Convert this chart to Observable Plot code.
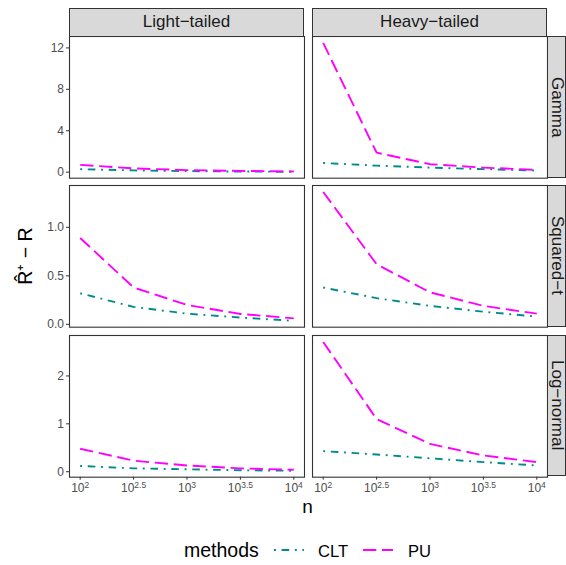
<!DOCTYPE html>
<html>
<head>
<meta charset="utf-8">
<script src="https://cdn.jsdelivr.net/npm/d3@7"></script>
<script src="https://cdn.jsdelivr.net/npm/@observablehq/plot@0.6"></script>
<style>
  html, body { margin: 0; padding: 0; background: #fff; overflow: hidden; }
  body { font-family: "Liberation Sans", Arial, Helvetica, sans-serif; }
  #chart { position: relative; width: 566px; height: 565px; overflow: hidden; }
  .panel { position: absolute; }
  .strip { position: absolute; box-sizing: border-box; background: #d9d9d9; border: 1px solid #333;
           color: #1a1a1a; font-size: 17px; display: flex; align-items: center; justify-content: center; }
  .vstrip span { writing-mode: vertical-rl; }
  #overlay { position: absolute; left: 0; top: 0; pointer-events: none; }
</style>
</head>
<body>
<div id="chart"></div>
<script>
// ---- data ----
const logN = [2, 2.5, 3, 3.5, 4];            // n = 10^logN
const tails = ["Light\u2212tailed", "Heavy\u2212tailed"];
const dists = ["Gamma", "Squared\u2212t", "Log\u2212normal"];
const methods = ["CLT", "PU"];

const gammaLightCLT = [0.29, 0.17, 0.10, 0.06, 0.04];
const gammaLightPU  = [0.70, 0.36, 0.20, 0.12, 0.07];
const gammaHeavyCLT = [0.89, 0.63, 0.44, 0.29, 0.16];
const gammaHeavyPU  = [12.48, 1.88, 0.77, 0.44, 0.22];
const sqtLightCLT   = [0.32, 0.18, 0.11, 0.07, 0.037];
const sqtLightPU    = [0.89, 0.38, 0.20, 0.107, 0.062];
const sqtHeavyCLT   = [0.38, 0.27, 0.19, 0.13, 0.08];
const sqtHeavyPU    = [1.365, 0.62, 0.33, 0.19, 0.11];
const lnLightCLT    = [0.12, 0.07, 0.05, 0.03, 0.02];
const lnLightPU     = [0.48, 0.23, 0.13, 0.07, 0.04];
const lnHeavyCLT    = [0.43, 0.36, 0.28, 0.20, 0.13];
const lnHeavyPU     = [2.71, 1.10, 0.58, 0.34, 0.20];

const yTicks = [[0, 4, 8, 12], [0, 0.5, 1.0], [0, 1, 2]];
const yFormats = [d => String(d), d3.format(".1f"), d => String(d)];
const xTickLabels = ["2", "2.5", "3", "3.5", "4"];

const series = {
  "Gamma":      {"Light": {CLT: gammaLightCLT, PU: gammaLightPU}, "Heavy": {CLT: gammaHeavyCLT, PU: gammaHeavyPU}},
  "Squared\u2212t":  {"Light": {CLT: sqtLightCLT, PU: sqtLightPU},  "Heavy": {CLT: sqtHeavyCLT, PU: sqtHeavyPU}},
  "Log\u2212normal": {"Light": {CLT: lnLightCLT, PU: lnLightPU},    "Heavy": {CLT: lnHeavyCLT, PU: lnHeavyPU}}
};
const tailKeys = ["Light", "Heavy"];

// ---- styling / layout ----
const colors = {CLT: "#008B8B", PU: "#FF00FF"};
const lw = 1.9;
const dashes = {CLT: [1*lw, 3*lw, 4*lw, 3*lw].join(","), PU: [7*lw, 3*lw].join(",")};
const colLeft = [69, 312], panelW = 235;
const rowTop = [36, 185, 334.6], panelH = 141.7;

const chart = document.getElementById("chart");

function expand(vals) {
  const lo = d3.min(vals), hi = d3.max(vals), r = hi - lo;
  return [lo - 0.05 * r, hi + 0.05 * r];
}

dists.forEach((dist, r) => {
  const rowVals = [];
  tailKeys.forEach(t => methods.forEach(m => rowVals.push(...series[dist][t][m])));
  const yDomain = expand(rowVals);
  tailKeys.forEach((t, c) => {
    const rows = [];
    methods.forEach(m => series[dist][t][m].forEach((v, i) => rows.push({method: m, x: logN[i], y: v})));
    const mL = c === 0 ? 69 : 4, mR = 4, mT = 4, mB = r === 2 ? 36 : 4;
    const marks = [Plot.frame({stroke: "#333", strokeWidth: 1.1})];
    methods.forEach(m => marks.push(Plot.line(rows.filter(d => d.method === m), {
      x: "x", y: "y", stroke: colors[m], strokeWidth: lw,
      strokeDasharray: dashes[m], strokeLinecap: "butt", strokeLinejoin: "round"
    })));
    if (c === 0) marks.push(Plot.axisY({ticks: yTicks[r], tickFormat: yFormats[r], tickSize: 3, tickPadding: 2.5,
      fontSize: 12, stroke: "#333", fill: "#4d4d4d", label: null}));
    if (r === 2) marks.push(Plot.axisX({ticks: logN, tickFormat: (d, i) => xTickLabels[i], tickSize: 3, tickPadding: 3,
      fontSize: 12, stroke: "#333", fill: "#4d4d4d", label: null}));
    const svg = Plot.plot({
      width: mL + panelW + mR, height: mT + panelH + mB,
      marginLeft: mL, marginRight: mR, marginTop: mT, marginBottom: mB,
      style: {fontFamily: '"Liberation Sans", Arial, sans-serif', background: "transparent", overflow: "visible"},
      x: {domain: [1.9, 4.1], axis: r === 2 ? undefined : null},
      y: {domain: yDomain, axis: c === 0 ? undefined : null},
      marks
    });
    svg.classList.add("panel");
    svg.style.left = (colLeft[c] - mL) + "px";
    svg.style.top = (rowTop[r] - mT) + "px";
    chart.appendChild(svg);
    // superscript tick labels 10^k
    if (r === 2) {
      d3.select(svg).selectAll('g[aria-label="x-axis tick label"] text').each(function () {
        const k = this.textContent;
        const sel = d3.select(this);
        sel.text(null);
        sel.append("tspan").text("10");
        sel.append("tspan").attr("dy", "-0.45em").attr("font-size", "8.5px").text(k);
      });
    }
  });
  // right strip
  const rs = document.createElement("div");
  rs.className = "strip vstrip";
  Object.assign(rs.style, {left: "547px", top: rowTop[r] + "px", width: "19px", height: panelH + "px"});
  rs.innerHTML = `<span>${dist}</span>`;
  chart.appendChild(rs);
});

// top strips
tails.forEach((t, c) => {
  const s = document.createElement("div");
  s.className = "strip";
  Object.assign(s.style, {left: colLeft[c] + "px", top: "8px", width: panelW + "px", height: "28.5px"});
  s.textContent = t;
  chart.appendChild(s);
});

// overlay: axis titles and legend
const ov = d3.select(chart).append("svg").attr("id", "overlay").attr("width", 566).attr("height", 565)
  .style("font-family", '"Liberation Sans", Arial, sans-serif');
ov.append("text").attr("transform", "translate(32,256) rotate(-90)").attr("text-anchor", "middle")
  .attr("font-size", 19.5).attr("fill", "#000").text("R\u0302\u207A \u2212 R");
ov.append("text").attr("x", 307.5).attr("y", 512.5).attr("text-anchor", "middle")
  .attr("font-size", 19).attr("fill", "#000").text("n");
// legend
ov.append("text").attr("x", 184).attr("y", 556.5).attr("font-size", 19.5).attr("fill", "#000").text("methods");
const keyX = [274, 363], labX = [318, 408];
methods.forEach((m, i) => {
  ov.append("line").attr("x1", keyX[i]).attr("x2", keyX[i] + 30).attr("y1", 550).attr("y2", 550)
    .attr("stroke", colors[m]).attr("stroke-width", lw).attr("stroke-dasharray", dashes[m]);
  ov.append("text").attr("x", labX[i]).attr("y", 556.5).attr("font-size", 16.6).attr("fill", "#000").text(m);
});
</script>
</body>
</html>
